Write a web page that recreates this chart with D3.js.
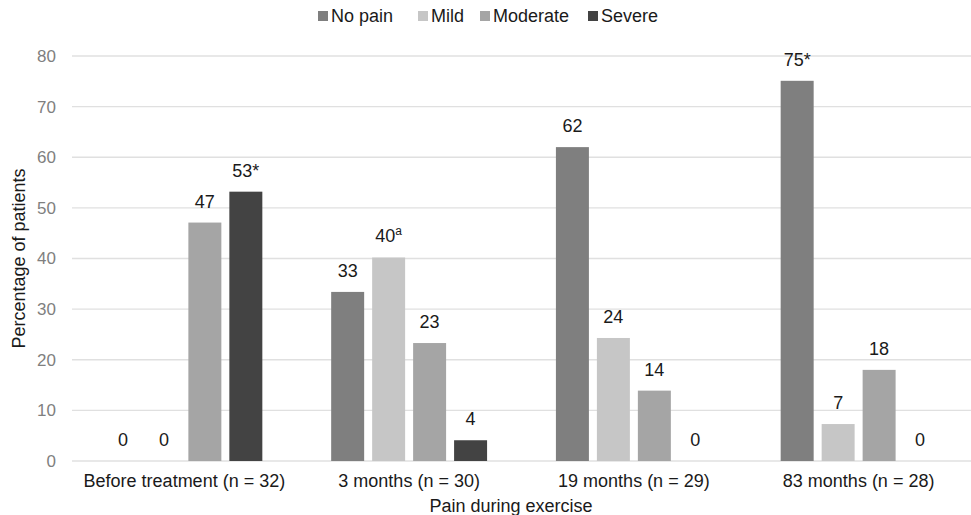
<!DOCTYPE html>
<html><head><meta charset="utf-8">
<script src="https://cdn.jsdelivr.net/npm/d3@7"></script>
<style>body{margin:0;background:#fff}svg{display:block;font-family:"Liberation Sans",Arial,sans-serif}</style>
</head><body>
<svg id="c" width="971" height="515"></svg>
<script>
const categories = ["Before treatment (n = 32)", "3 months (n = 30)", "19 months (n = 29)", "83 months (n = 28)"];
const series = ["No pain", "Mild", "Moderate", "Severe"];
const colors = ["#7f7f7f", "#c6c6c6", "#a5a5a5", "#434343"];
const noPain = [0, 33.4, 62, 75.1];
const mild = [0, 40.2, 24.3, 7.3];
const moderate = [47.1, 23.3, 13.9, 18];
const severe = [53.2, 4.1, 0, 0];
const labelNoPain = ["0", "33", "62", "75*"];
const labelMild = ["0", "40|a", "24", "7"];
const labelModerate = ["47", "23", "14", "18"];
const labelSevere = ["53*", "4", "0", "0"];
const yTicks = [0, 10, 20, 30, 40, 50, 60, 70, 80];

const values = [noPain, mild, moderate, severe];
const labels = [labelNoPain, labelMild, labelModerate, labelSevere];

const svg = d3.select("#c");
const m = {l: 72, r: 0, t: 56, b: 54};
const W = 971, H = 515;
const x0 = d3.scaleBand().domain(categories).range([m.l, W - m.r]).paddingInner(0).paddingOuter(0);
const x1 = d3.scaleBand().domain(series).range([0, x0.bandwidth()]).paddingInner(0.195).paddingOuter(0.84);
const y = d3.scaleLinear().domain([0, 80]).range([H - m.b, m.t]);

// gridlines
svg.append("g").selectAll("line").data(yTicks).join("line")
  .attr("x1", m.l).attr("x2", W - m.r)
  .attr("y1", d => y(d)).attr("y2", d => y(d))
  .attr("stroke", "#e0e0e0").attr("stroke-width", 1.3);

// y axis
const ya = svg.append("g").attr("transform", `translate(${m.l},0)`)
  .call(d3.axisLeft(y).tickValues(yTicks).tickSize(0).tickPadding(16));
ya.select(".domain").remove();
ya.selectAll("text").attr("fill", "#7f7f7f").style("font-size", "17px").style("font-family", "Liberation Sans, Arial, sans-serif");

// x axis
const xa = svg.append("g").attr("transform", `translate(0,${y(0)})`)
  .call(d3.axisBottom(x0).tickSize(0).tickPadding(13));
xa.select(".domain").remove();
xa.selectAll("text").attr("fill", "#1a1a1a").style("font-size", "18px").style("font-family", "Liberation Sans, Arial, sans-serif");

// bars
const data = [];
categories.forEach((c, i) => series.forEach((s, j) => data.push({c, s, j, v: values[j][i], lab: labels[j][i]})));
const g = svg.append("g");
g.selectAll("rect").data(data).join("rect")
  .attr("x", d => x0(d.c) + x1(d.s)).attr("width", x1.bandwidth())
  .attr("y", d => y(d.v)).attr("height", d => y(0) - y(d.v))
  .attr("fill", d => colors[d.j]);

const lt = g.selectAll("text.lab").data(data).join("text").attr("class", "lab")
  .attr("x", d => x0(d.c) + x1(d.s) + x1.bandwidth() / 2)
  .attr("y", d => y(d.v) - 15)
  .attr("text-anchor", "middle").attr("fill", "#1a1a1a").style("font-size", "18px");
lt.each(function(d) {
  const parts = d.lab.split("|");
  const t = d3.select(this);
  t.append("tspan").text(parts[0]);
  if (parts[1]) t.append("tspan").attr("dy", -7).style("font-size", "12px").text(parts[1]);
});

// axis titles
svg.append("text").attr("transform", `translate(25,${(y(0) + y(80)) / 2}) rotate(-90)`)
  .attr("text-anchor", "middle").attr("fill", "#1a1a1a").style("font-size", "18px").text("Percentage of patients");
svg.append("text").attr("x", 511).attr("y", 512)
  .attr("text-anchor", "middle").attr("fill", "#1a1a1a").style("font-size", "18px").text("Pain during exercise");

// legend
const legX = [318, 418, 480, 588];
const lg = svg.append("g").selectAll("g").data(series).join("g")
  .attr("transform", (d, i) => `translate(${legX[i]},11)`);
lg.append("rect").attr("width", 10).attr("height", 10).attr("fill", (d, i) => colors[i]);
lg.append("text").attr("x", 13).attr("y", 11).attr("fill", "#1a1a1a").style("font-size", "18px").text(d => d);
</script>
</body></html>
